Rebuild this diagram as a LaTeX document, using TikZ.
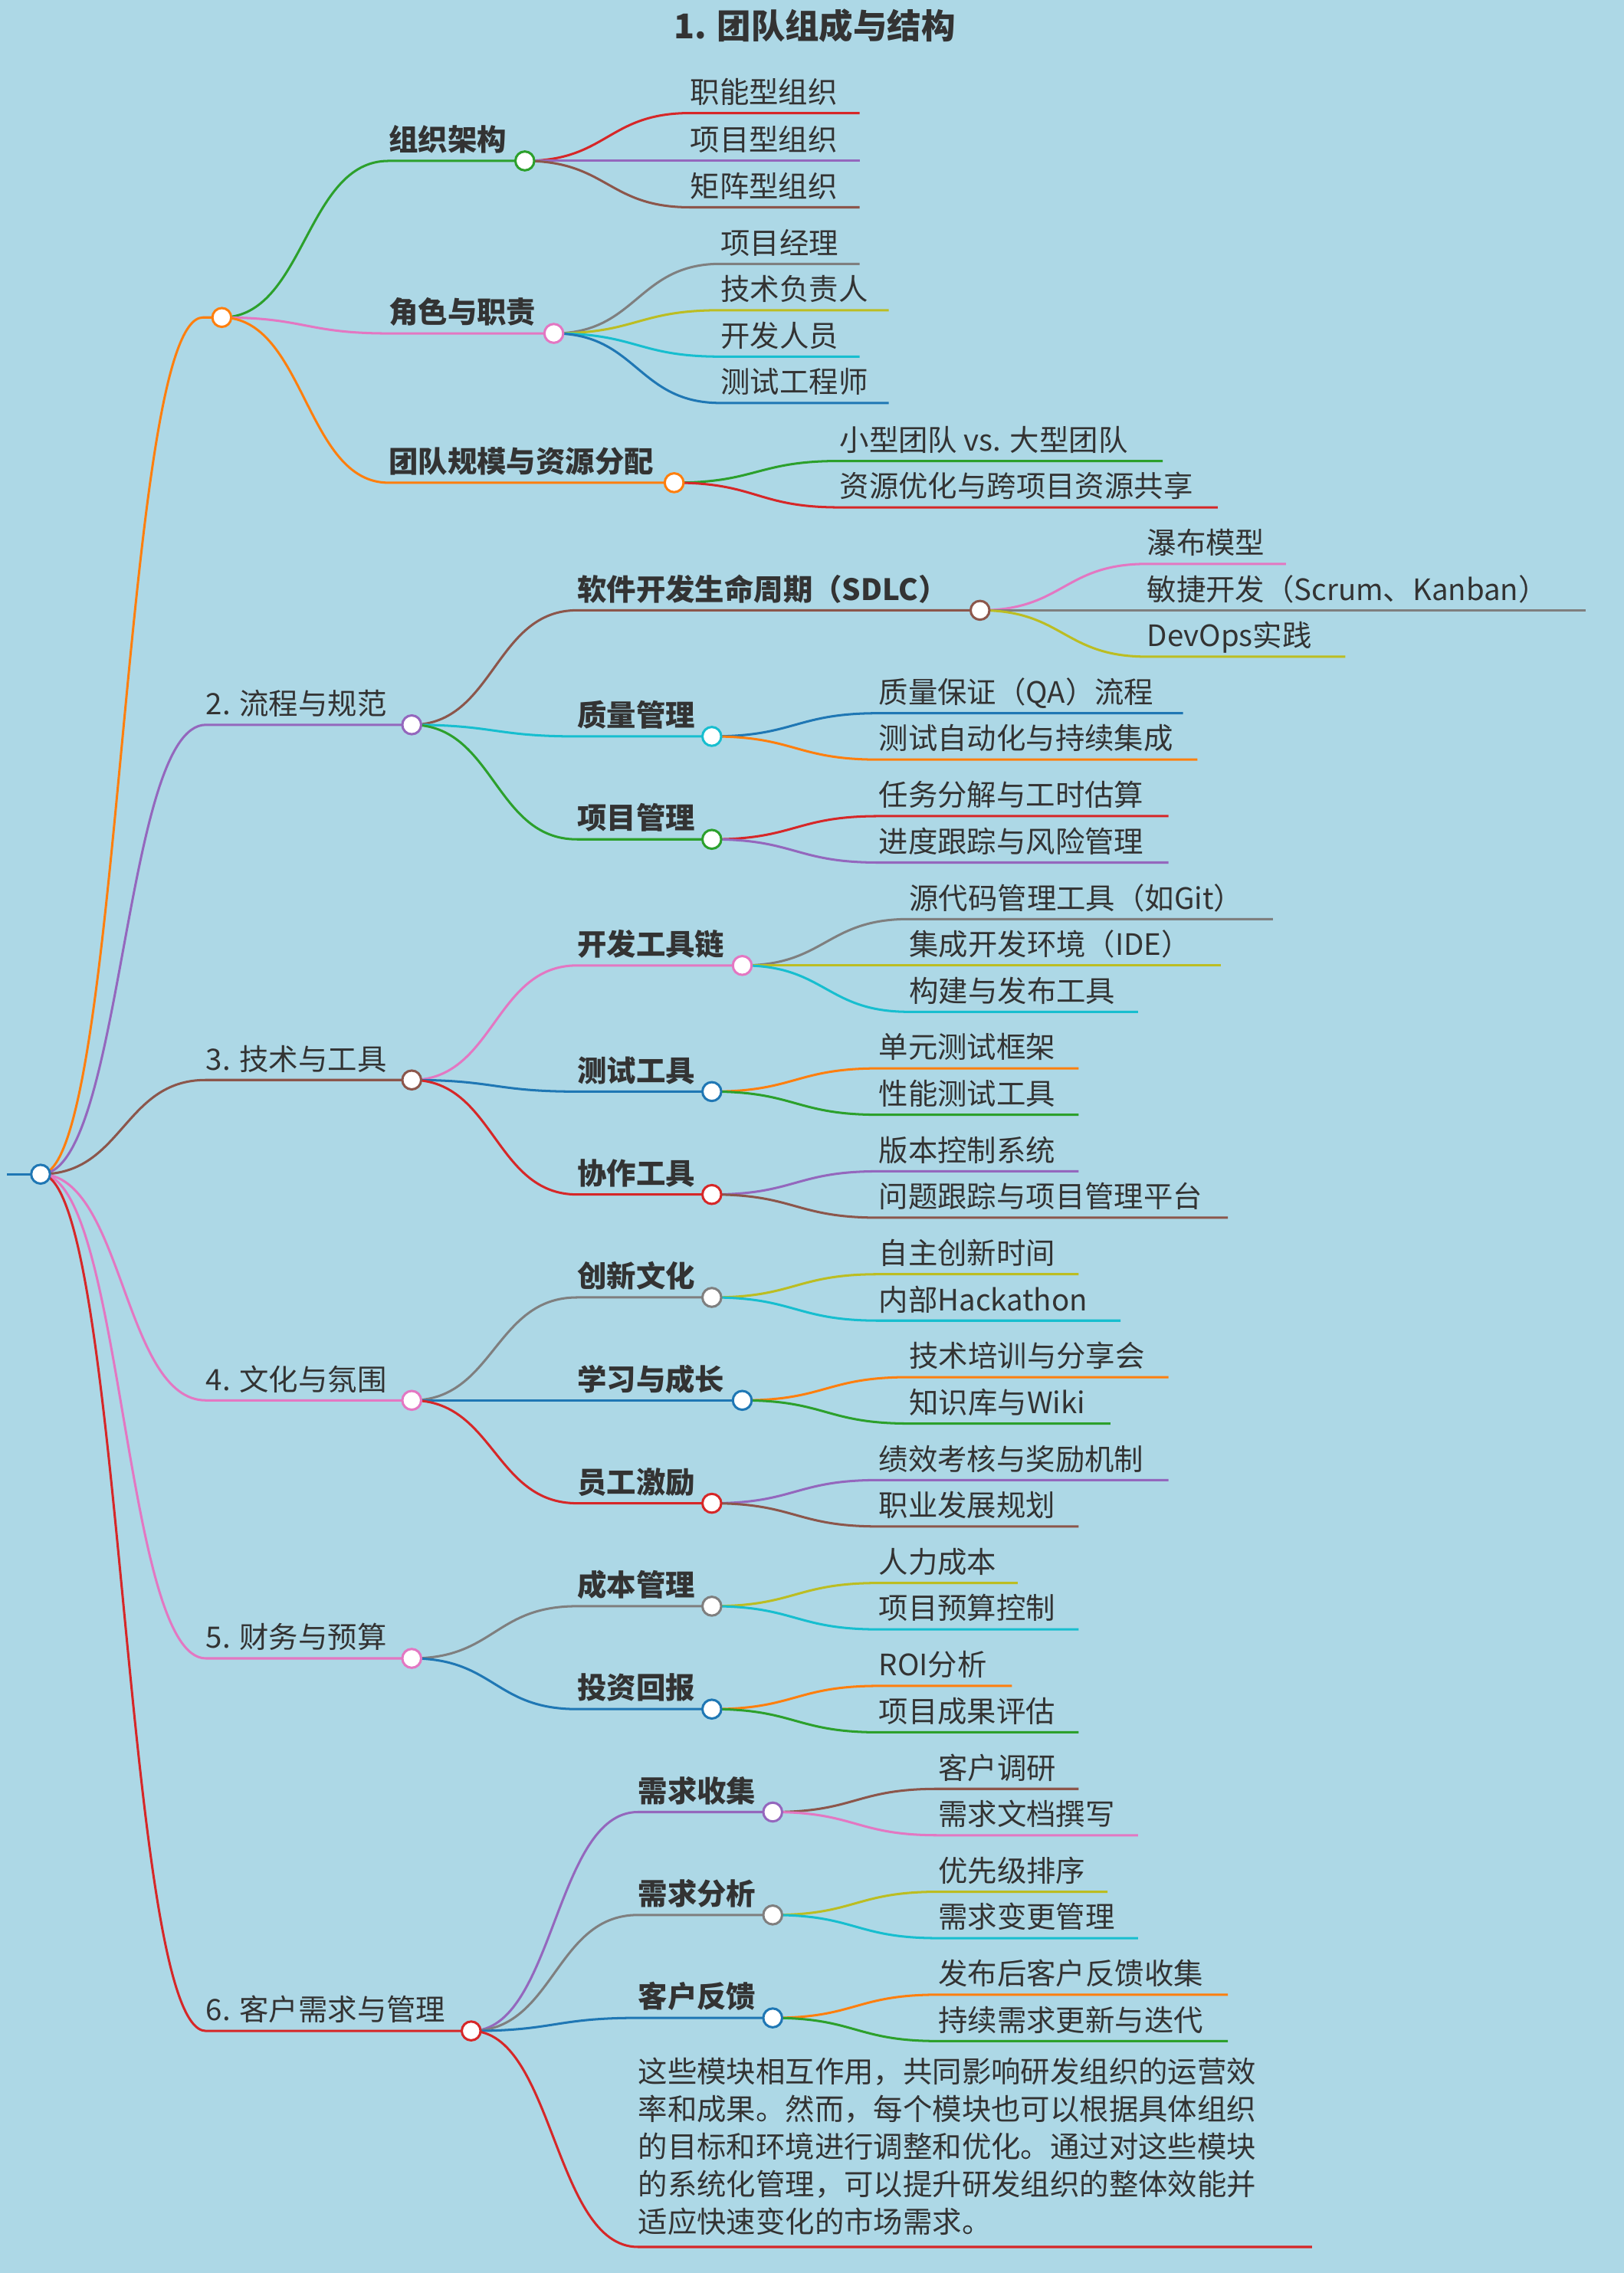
\documentclass[tikz,border=0pt]{standalone}
\usepackage{fontspec}
\setmainfont{Noto Sans CJK SC}
\definecolor{bg}{RGB}{173,216,230}
\definecolor{cO}{RGB}{255,127,14}
\definecolor{cG}{RGB}{44,160,44}
\definecolor{cR}{RGB}{214,39,40}
\definecolor{cP}{RGB}{148,103,189}
\definecolor{cB}{RGB}{140,86,75}
\definecolor{cK}{RGB}{227,119,194}
\definecolor{cY}{RGB}{127,127,127}
\definecolor{cL}{RGB}{188,189,34}
\definecolor{cC}{RGB}{23,190,207}
\definecolor{cU}{RGB}{31,119,180}
\definecolor{tx}{RGB}{51,51,51}
\tikzset{ln/.style={line width=1.6pt},
  circ/.style={line width=1.6pt,fill=white},
  txt/.style={text=tx,font=\fontsize{20.3}{24}\selectfont,inner sep=0pt},
  bld/.style={font=\fontsize{20.3}{24}\selectfont\bfseries}}
\newcommand\kid[8]{%
 \draw[#1,ln] (#2,#3) .. controls ({(#2+#4)/2},#3) and ({(#2+#4)/2},#5) .. (#4,#5) -- (#6,#5);
 \node[txt,#8,anchor=base west] at (#4,{#5-7}) {#7};}
\newcommand\jdot[3]{\draw[#1,circ] (#2,#3) circle (6.5);}
\begin{document}
\begin{tikzpicture}[x=1pt,y=-1pt]
\fill[bg] (0,0) rectangle (1120,1568);
\useasboundingbox (0,0) rectangle (1120,1568);
\node[txt,font=\fontsize{23.5}{28}\selectfont\bfseries] (title) at (562,18) {1. 团队组成与结构};
\draw[cU,ln] (5,810) -- (28,810);
% Branch 1
\kid{cO}{28}{810}{140}{219}{153}{}{}
\kid{cG}{153}{219}{268}{111}{362}{组织架构}{bld}
\kid{cR}{362}{111}{476}{78}{593}{职能型组织}{}
\kid{cP}{362}{111}{476}{111}{593}{项目型组织}{}
\kid{cB}{362}{111}{476}{143}{593}{矩阵型组织}{}
\jdot{cG}{362}{111}
\kid{cK}{153}{219}{268}{230}{382}{角色与职责}{bld}
\kid{cY}{382}{230}{497}{182}{593}{项目经理}{}
\kid{cL}{382}{230}{497}{214}{613}{技术负责人}{}
\kid{cC}{382}{230}{497}{246}{593}{开发人员}{}
\kid{cU}{382}{230}{497}{278}{613}{测试工程师}{}
\jdot{cK}{382}{230}
\kid{cO}{153}{219}{268}{333}{465}{团队规模与资源分配}{bld}
\kid{cG}{465}{333}{579}{318}{802}{小型团队 vs. 大型团队}{}
\kid{cR}{465}{333}{579}{350}{840}{资源优化与跨项目资源共享}{}
\jdot{cO}{465}{333}
\jdot{cO}{153}{219}
% Branch 2
\kid{cP}{28}{810}{142}{500}{284}{2. 流程与规范}{}
\kid{cB}{284}{500}{398}{421}{676}{软件开发生命周期（SDLC）}{bld}
\kid{cK}{676}{421}{791}{389}{887}{瀑布模型}{}
\kid{cY}{676}{421}{791}{421}{1094}{敏捷开发（Scrum、Kanban）}{}
\kid{cL}{676}{421}{791}{453}{928}{DevOps实践}{}
\jdot{cB}{676}{421}
\kid{cC}{284}{500}{398}{508}{491}{质量管理}{bld}
\kid{cU}{491}{508}{606}{492}{816}{质量保证（QA）流程}{}
\kid{cO}{491}{508}{606}{524}{826}{测试自动化与持续集成}{}
\jdot{cC}{491}{508}
\kid{cG}{284}{500}{398}{579}{491}{项目管理}{bld}
\kid{cR}{491}{579}{606}{563}{806}{任务分解与工时估算}{}
\kid{cP}{491}{579}{606}{595}{806}{进度跟踪与风险管理}{}
\jdot{cG}{491}{579}
\jdot{cP}{284}{500}
% Branch 3
\kid{cB}{28}{810}{142}{745}{284}{3. 技术与工具}{}
\kid{cK}{284}{745}{398}{666}{512}{开发工具链}{bld}
\kid{cY}{512}{666}{627}{634}{878}{源代码管理工具（如Git）}{}
\kid{cL}{512}{666}{627}{666}{842}{集成开发环境（IDE）}{}
\kid{cC}{512}{666}{627}{698}{785}{构建与发布工具}{}
\jdot{cK}{512}{666}
\kid{cU}{284}{745}{398}{753}{491}{测试工具}{bld}
\kid{cO}{491}{753}{606}{737}{744}{单元测试框架}{}
\kid{cG}{491}{753}{606}{769}{744}{性能测试工具}{}
\jdot{cU}{491}{753}
\kid{cR}{284}{745}{398}{824}{491}{协作工具}{bld}
\kid{cP}{491}{824}{606}{808}{744}{版本控制系统}{}
\kid{cB}{491}{824}{606}{840}{847}{问题跟踪与项目管理平台}{}
\jdot{cR}{491}{824}
\jdot{cB}{284}{745}
% Branch 4
\kid{cK}{28}{810}{142}{966}{284}{4. 文化与氛围}{}
\kid{cY}{284}{966}{398}{895}{491}{创新文化}{bld}
\kid{cL}{491}{895}{606}{879}{744}{自主创新时间}{}
\kid{cC}{491}{895}{606}{911}{773}{内部Hackathon}{}
\jdot{cY}{491}{895}
\kid{cU}{284}{966}{398}{966}{512}{学习与成长}{bld}
\kid{cO}{512}{966}{627}{950}{806}{技术培训与分享会}{}
\kid{cG}{512}{966}{627}{982}{766}{知识库与Wiki}{}
\jdot{cU}{512}{966}
\kid{cR}{284}{966}{398}{1037}{491}{员工激励}{bld}
\kid{cP}{491}{1037}{606}{1021}{806}{绩效考核与奖励机制}{}
\kid{cB}{491}{1037}{606}{1053}{744}{职业发展规划}{}
\jdot{cR}{491}{1037}
\jdot{cK}{284}{966}
% Branch 5
\kid{cK}{28}{810}{142}{1144}{284}{5. 财务与预算}{}
\kid{cY}{284}{1144}{398}{1108}{491}{成本管理}{bld}
\kid{cL}{491}{1108}{606}{1092}{702}{人力成本}{}
\kid{cC}{491}{1108}{606}{1124}{744}{项目预算控制}{}
\jdot{cY}{491}{1108}
\kid{cU}{284}{1144}{398}{1179}{491}{投资回报}{bld}
\kid{cO}{491}{1179}{606}{1163}{698}{ROI分析}{}
\kid{cG}{491}{1179}{606}{1195}{744}{项目成果评估}{}
\jdot{cU}{491}{1179}
\jdot{cK}{284}{1144}
% Branch 6
\kid{cR}{28}{810}{142}{1401}{325}{6. 客户需求与管理}{}
\kid{cP}{325}{1401}{440}{1250}{533}{需求收集}{bld}
\kid{cB}{533}{1250}{647}{1234}{744}{客户调研}{}
\kid{cK}{533}{1250}{647}{1266}{785}{需求文档撰写}{}
\jdot{cP}{533}{1250}
\kid{cY}{325}{1401}{440}{1321}{533}{需求分析}{bld}
\kid{cL}{533}{1321}{647}{1305}{764}{优先级排序}{}
\kid{cC}{533}{1321}{647}{1337}{785}{需求变更管理}{}
\jdot{cY}{533}{1321}
\kid{cU}{325}{1401}{440}{1392}{533}{客户反馈}{bld}
\kid{cO}{533}{1392}{647}{1376}{847}{发布后客户反馈收集}{}
\kid{cG}{533}{1392}{647}{1408}{847}{持续需求更新与迭代}{}
\jdot{cU}{533}{1392}
\draw[cR,ln] (325,1401) .. controls (382,1401) and (382,1550) .. (440,1550) -- (905,1550);
\node[txt,anchor=north west,align=left,font=\fontsize{20.3}{26}\selectfont] (para) at (440,1419) {这些模块相互作用，共同影响研发组织的运营效\\率和成果。然而，每个模块也可以根据具体组织\\的目标和环境进行调整和优化。通过对这些模块\\的系统化管理，可以提升研发组织的整体效能并\\适应快速变化的市场需求。};
\jdot{cR}{325}{1401}
\jdot{cU}{28}{810}
\end{tikzpicture}
\end{document}
